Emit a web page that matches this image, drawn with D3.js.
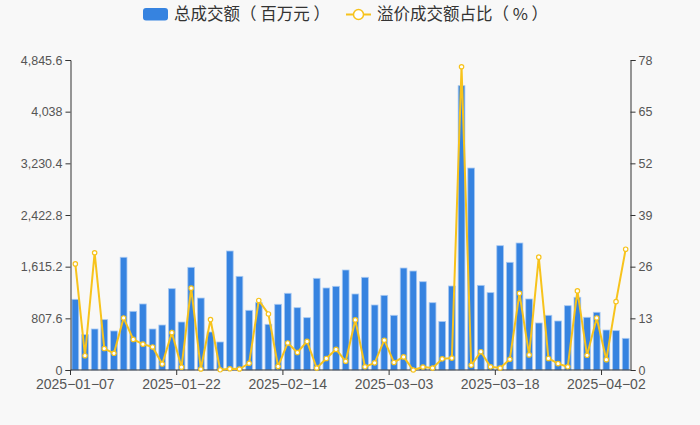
<!DOCTYPE html>
<html lang="zh">
<head>
<meta charset="UTF-8">
<title>总成交额与溢价成交额占比</title>
<script src="https://d3js.org/d3.v7.min.js"></script>
<style>
  body { margin: 0; background: #f8f8f8; }
  svg { display: block; font-family: "Liberation Sans", Arial, sans-serif; }
  .legend text { font-family: "Noto Sans CJK SC", sans-serif; font-size: 16.5px; fill: #333; white-space: pre; }
  .axis text { fill: #555; }
  .axis path, .axis line { stroke: #333; }
</style>
</head>
<body>
<svg width="700" height="425"></svg>
<script>
// trading days
const dates = [
  "2025-01-07","2025-01-08","2025-01-09","2025-01-10","2025-01-13","2025-01-14","2025-01-15","2025-01-16",
  "2025-01-17","2025-01-20","2025-01-21","2025-01-22","2025-01-23","2025-01-24","2025-01-27","2025-02-05",
  "2025-02-06","2025-02-07","2025-02-10","2025-02-11","2025-02-12","2025-02-13","2025-02-14","2025-02-17",
  "2025-02-18","2025-02-19","2025-02-20","2025-02-21","2025-02-24","2025-02-25","2025-02-26","2025-02-27",
  "2025-02-28","2025-03-03","2025-03-04","2025-03-05","2025-03-06","2025-03-07","2025-03-10","2025-03-11",
  "2025-03-12","2025-03-13","2025-03-14","2025-03-17","2025-03-18","2025-03-19","2025-03-20","2025-03-21",
  "2025-03-24","2025-03-25","2025-03-26","2025-03-27","2025-03-28","2025-03-31","2025-04-01","2025-04-02",
  "2025-04-03","2025-04-07"
];

// 总成交额（百万元）
const totalVolume = [
  1105, 552, 641, 787, 610, 1762, 917, 1032, 641, 703, 1271, 750, 1605, 1125, 594, 438,
  1860, 1464, 933, 1052, 714, 1027, 1199, 974, 818, 1433, 1282, 1308, 1563, 1188, 1449, 1016,
  1167, 855, 1594, 1547, 1380, 1052, 758, 1313, 4444, 3157, 1323, 1209, 1943, 1683, 1985, 1110,
  735, 855, 766, 1005, 1136, 824, 902, 625, 615, 495
];

// 溢价成交额占比（%）
const premiumShare = [
  26.7, 3.6, 29.5, 5.4, 4.2, 13.1, 7.7, 6.5, 5.8, 1.5, 9.4, 0.7, 20.6, 0.25, 12.7, 0.05,
  0.3, 0.25, 1.7, 17.5, 14.1, 0.9, 6.8, 4.4, 7.2, 0.5, 2.9, 5.2, 2.2, 12.6, 0.8, 1.8,
  7.5, 1.9, 3.3, 0.0, 0.75, 0.5, 2.8, 3.0, 76.3, 1.2, 4.6, 0.8, 0.5, 2.7, 19.3, 3.8,
  28.4, 2.9, 1.6, 0.8, 19.9, 3.7, 13.1, 2.6, 17.2, 30.4
];

const leftTicks = [0, 807.6, 1615.2, 2422.8, 3230.4, 4038, 4845.6];
const rightTicks = [0, 13, 26, 39, 52, 65, 78];
const labelEvery = 11;

const svg = d3.select("svg");
const mLeft = 70.5, mRight = 630.5, mTop = 60, mBottom = 370;
const blue = "#3683e0", gold = "#f7c31c";

const x = d3.scaleBand().domain(dates).range([mLeft, mRight]).paddingInner(0.3).paddingOuter(0.15);
const xb = d3.scaleBand().domain(dates).range([mLeft, mRight]); // full bands for ticks
const yL = d3.scaleLinear().domain([0, 4845.6]).range([mBottom, mTop]);
const yR = d3.scaleLinear().domain([0, 78]).range([mBottom, mTop]);

// bars
svg.append("g").selectAll("rect")
  .data(totalVolume)
  .join("rect")
  .attr("x", (d, i) => x(dates[i]))
  .attr("width", x.bandwidth())
  .attr("y", d => yL(d))
  .attr("height", d => mBottom - yL(d))
  .attr("fill", blue)
  .attr("stroke", "#a8c9f2")
  .attr("stroke-width", 0.8);

// axes
const fmt = d3.format(",");
svg.append("g").attr("class", "axis")
  .attr("transform", `translate(${mLeft},0)`)
  .call(d3.axisLeft(yL).tickValues(leftTicks).tickSize(5).tickPadding(3).tickFormat(d => fmt(d)))
  .call(g => g.selectAll("text").attr("font-size", 12.5));

svg.append("g").attr("class", "axis")
  .attr("transform", `translate(${mRight},0)`)
  .call(d3.axisRight(yR).tickValues(rightTicks).tickSize(5).tickPadding(3))
  .call(g => g.selectAll("text").attr("font-size", 12.5));

const xg = svg.append("g").attr("class", "axis")
  .attr("transform", `translate(0,${mBottom})`);
xg.append("line").attr("x1", mLeft).attr("x2", mRight).attr("stroke", "#333");
const labelled = dates.filter((d, i) => i % labelEvery === 0);
xg.selectAll(".tk").data(labelled).join("line")
  .attr("x1", d => xb(d)).attr("x2", d => xb(d))
  .attr("y1", 0).attr("y2", 5).attr("stroke", "#333");
xg.selectAll(".lb").data(labelled).join("text")
  .attr("x", d => xb(d) + xb.bandwidth() / 2)
  .attr("y", 19)
  .attr("text-anchor", "middle")
  .attr("font-size", 14)
  .text(d => d.replace(/-/g, "\u2212"));

// line
const line = d3.line()
  .x((d, i) => xb(dates[i]) + xb.bandwidth() / 2)
  .y(d => yR(d));
svg.append("path")
  .datum(premiumShare)
  .attr("d", line)
  .attr("fill", "none")
  .attr("stroke", gold)
  .attr("stroke-width", 2);
svg.append("g").selectAll("circle")
  .data(premiumShare)
  .join("circle")
  .attr("cx", (d, i) => xb(dates[i]) + xb.bandwidth() / 2)
  .attr("cy", d => yR(d))
  .attr("r", 2.2)
  .attr("fill", "#fff")
  .attr("stroke", gold)
  .attr("stroke-width", 1.2);

// legend
const lg = svg.append("g").attr("class", "legend");
lg.append("rect").attr("x", 143).attr("y", 8).attr("width", 25).attr("height", 12.5)
  .attr("rx", 3).attr("fill", blue);
lg.append("text").attr("x", 174).attr("y", 20).text("总成交额（ 百万元 ）");
lg.append("line").attr("x1", 346).attr("x2", 371).attr("y1", 14.5).attr("y2", 14.5)
  .attr("stroke", gold).attr("stroke-width", 2);
lg.append("circle").attr("cx", 358.5).attr("cy", 14.5).attr("r", 5)
  .attr("fill", "#fff").attr("stroke", gold).attr("stroke-width", 1.5);
lg.append("text").attr("x", 377).attr("y", 20).text("溢价成交额占比（ % ）");
</script>
</body>
</html>
